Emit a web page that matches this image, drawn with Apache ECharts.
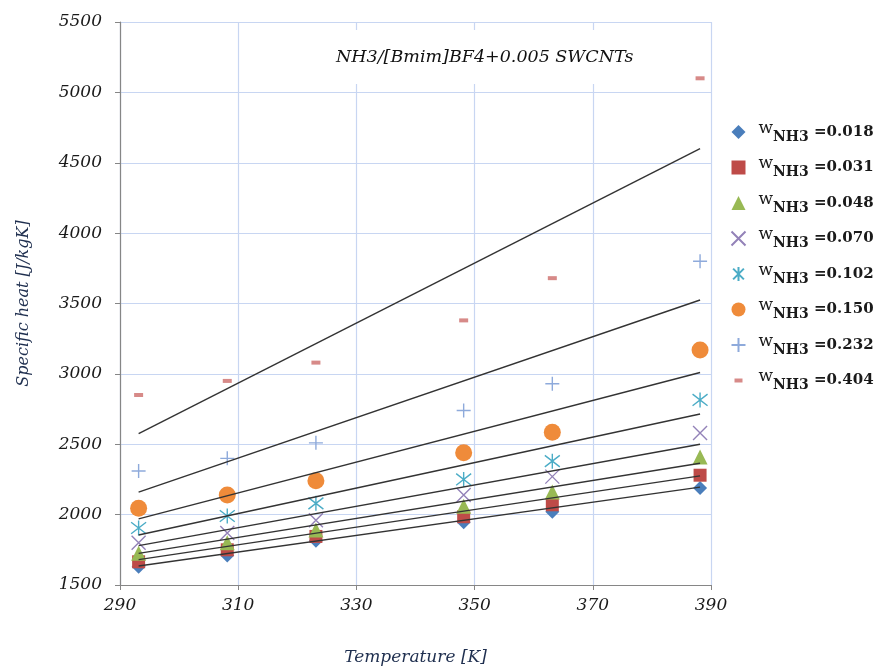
<!DOCTYPE html>
<html>
<head>
<meta charset="utf-8">
<script src="https://cdn.jsdelivr.net/npm/echarts@6/dist/echarts.min.js"></script>
<style>
  html, body { margin: 0; background: #fff; }
  #chart { width: 880px; height: 672px; }
</style>
</head>
<body>
<div id="chart"></div>
<script>
// temperatures [K]
var temps = [293.15, 308.15, 323.15, 348.15, 363.15, 388.15];
// mass fractions of NH3
var fractions = ['0.018', '0.031', '0.048', '0.070', '0.102', '0.150', '0.232', '0.404'];

// measured specific heat [J/kgK], one array per fraction
var cp018 = [1630, 1710, 1815, 1945, 2020, 2190];
var cp031 = [1665, 1750, 1845, 1985, 2070, 2280];
var cp048 = [1725, 1800, 1890, 2060, 2160, 2410];
var cp070 = [1800, 1870, 1960, 2140, 2270, 2580];
var cp102 = [1905, 1990, 2080, 2250, 2380, 2815];
var cp150 = [2045, 2140, 2240, 2440, 2585, 3170];
var cp232 = [2310, 2400, 2510, 2740, 2930, 3800];
var cp404 = [2850, 2950, 3080, 3380, 3680, 5100];

// fitted lines: value at first and last temperature
var fitStart = [1635, 1680, 1725, 1780, 1855, 1970, 2160, 2575];
var fitEnd   = [2195, 2275, 2365, 2500, 2715, 3010, 3525, 4600];

var measured = [cp018, cp031, cp048, cp070, cp102, cp150, cp232, cp404];

var serifFont = 'DejaVu Serif';

// marker look per series
var markers = [
  { symbol: 'diamond', size: 14, color: '#4a7ebb' },
  { symbol: 'rect', size: 13, color: '#be4b48' },
  { symbol: 'triangle', size: 15, color: '#98b954' },
  { symbol: 'path://M0,0L10,10M10,0L0,10', size: 14, stroke: '#9382b8' },
  { symbol: 'path://M0,0L10,10M10,0L0,10M5,-1.5L5,11.5', size: 15, stroke: '#4bacc6' },
  { symbol: 'circle', size: 17, color: '#ef8b3a' },
  { symbol: 'path://M5,0L5,10M0,5L10,5', size: 14, stroke: '#8eaadb' },
  { symbol: 'path://M0,0H10V4H0Z', size: [9, 4], color: '#d78a88',
    icon: 'path://M0,0M14,14M3,5H11V9H3Z' }
];

var series = [];
var legendData = [];

measured.forEach(function (vals, i) {
  var m = markers[i];
  var pts = temps.map(function (t, j) { return [t, vals[j]]; });
  var itemStyle = m.stroke
    ? { color: 'none', borderColor: m.stroke, borderWidth: 1.4, opacity: 1 }
    : { color: m.color, opacity: 1 };
  series.push({
    name: fractions[i],
    type: 'scatter',
    symbol: m.symbol,
    symbolSize: m.size,
    itemStyle: itemStyle,
    data: pts,
    z: 2
  });
  legendData.push(m.icon ? { name: fractions[i], icon: m.icon } : { name: fractions[i] });
});

// trend lines drawn above the markers
fitStart.forEach(function (v, i) {
  series.push({
    name: 'fit' + fractions[i],
    type: 'line',
    data: [[temps[0], v], [temps[temps.length - 1], fitEnd[i]]],
    showSymbol: false,
    silent: true,
    lineStyle: { color: '#333', width: 1.4 },
    z: 5
  });
});

var chart = echarts.init(document.getElementById('chart'));

chart.setOption({
  backgroundColor: '#fff',
  animation: false,
  title: {
    text: 'NH3/[Bmim]BF4+0.005 SWCNTs',
    left: 324,
    top: 30,
    padding: [18, 12],
    backgroundColor: '#fff',
    textStyle: {
      fontFamily: serifFont,
      fontStyle: 'italic',
      fontWeight: 'normal',
      fontSize: 17.5,
      color: '#111'
    }
  },
  grid: { left: 120, right: 169, top: 22, bottom: 87 },
  legend: {
    data: legendData,
    orient: 'vertical',
    left: 724,
    top: 115,
    itemWidth: 14,
    itemHeight: 14,
    itemGap: 11.5,
    formatter: function (name) {
      return '{w|w}{s|NH3}{v| =' + name + '}';
    },
    textStyle: {
      color: '#1a1a1a',
      fontFamily: serifFont,
      rich: {
        w: { fontFamily: serifFont, fontSize: 17, color: '#1a1a1a', lineHeight: 16, verticalAlign: 'top', padding: [0, 0, 0, 8] },
        s: { fontFamily: serifFont, fontSize: 14, fontWeight: 'bold', color: '#1a1a1a', lineHeight: 16, verticalAlign: 'bottom' },
        v: { fontFamily: serifFont, fontSize: 15, fontWeight: 'bold', color: '#1a1a1a', lineHeight: 24, verticalAlign: 'middle' }
      }
    }
  },
  xAxis: {
    type: 'value',
    min: 290,
    max: 390,
    interval: 20,
    name: 'Temperature [K]',
    nameLocation: 'middle',
    nameGap: 64,
    nameTextStyle: { fontFamily: serifFont, fontStyle: 'italic', fontSize: 17, color: '#1f2f4f' },
    axisLine: { show: true, lineStyle: { color: '#868686', width: 1.2 } },
    axisTick: { show: true, length: 5, lineStyle: { color: '#868686' } },
    axisLabel: { margin: 12, fontFamily: serifFont, fontStyle: 'italic', fontSize: 17, color: '#1a1a1a' },
    splitLine: { show: true, lineStyle: { color: '#c8d6f2', width: 1.2 } }
  },
  yAxis: {
    type: 'value',
    min: 1500,
    max: 5500,
    interval: 500,
    name: 'Specific heat [J/kgK]',
    nameLocation: 'middle',
    nameGap: 88,
    nameTextStyle: { fontFamily: serifFont, fontStyle: 'italic', fontSize: 16, color: '#1f2f4f' },
    axisLine: { show: true, lineStyle: { color: '#868686', width: 1.2 } },
    axisTick: { show: true, length: 5, lineStyle: { color: '#868686' } },
    axisLabel: {
      margin: 18, fontFamily: serifFont, fontStyle: 'italic', fontSize: 17, color: '#1a1a1a',
      formatter: function (v) { return String(v); }
    },
    splitLine: { show: true, lineStyle: { color: '#c8d6f2', width: 1.2 } }
  },
  series: series
});
</script>
</body>
</html>
